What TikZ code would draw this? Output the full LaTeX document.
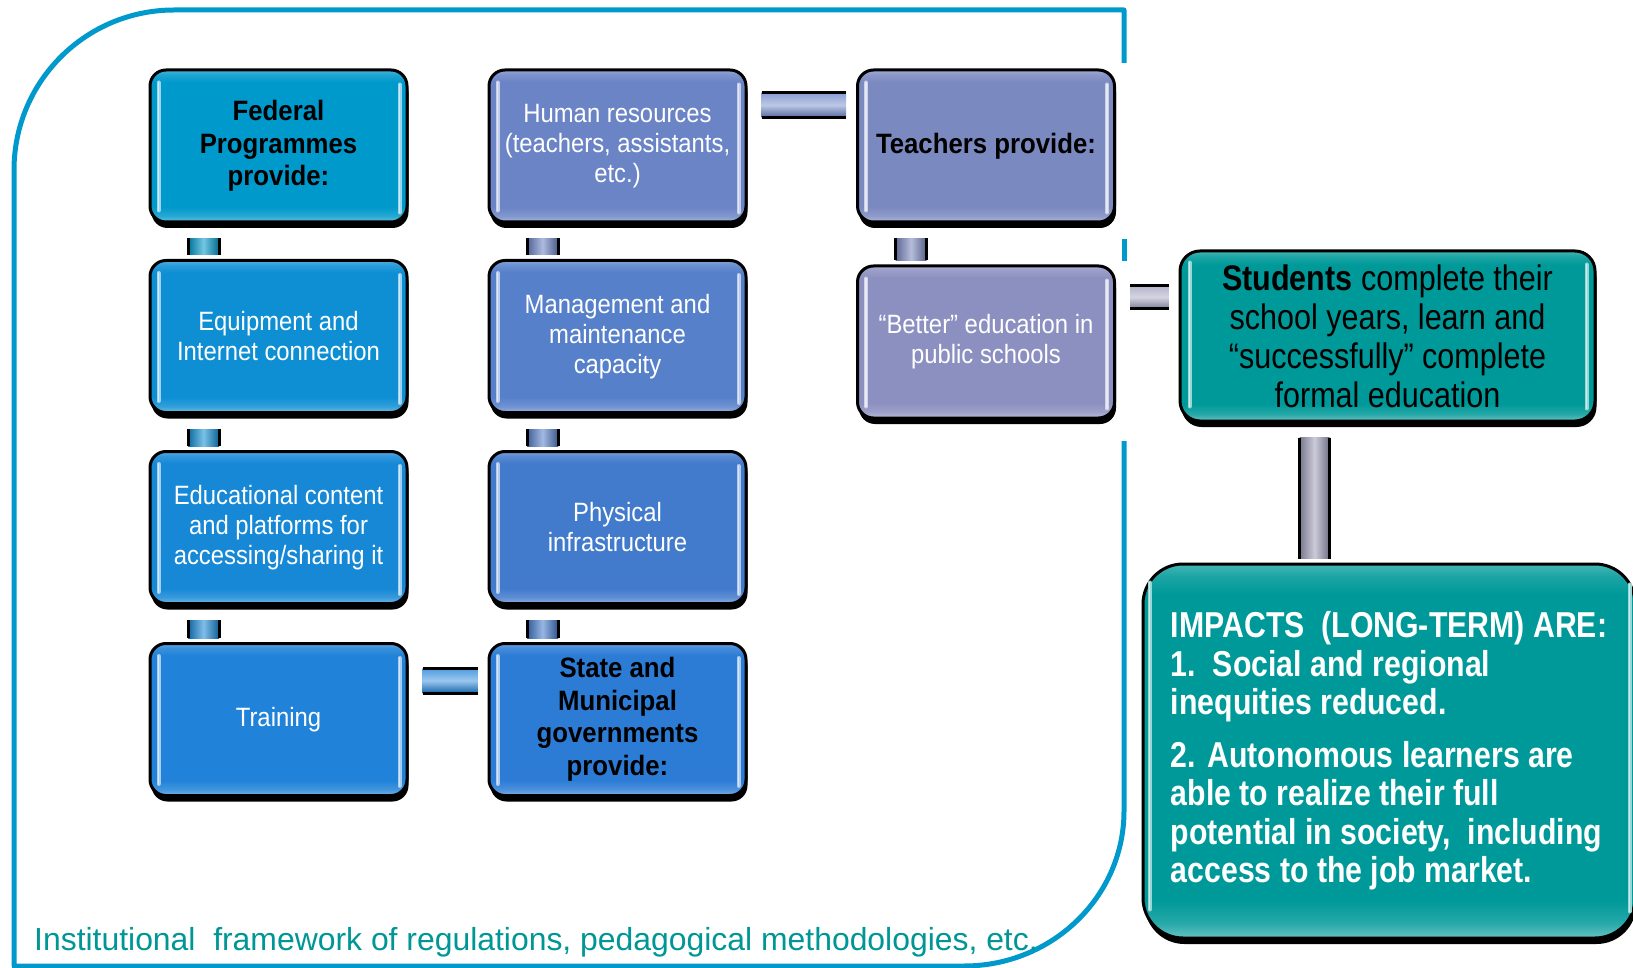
\documentclass[tikz,border=0pt]{standalone}
\usepackage{fontspec}
\setmainfont{Liberation Sans}
\newfontfamily\narrowsans{Liberation Sans}[FakeStretch=0.9]
\newfontfamily\headsans{Liberation Sans}[FakeStretch=0.92]
\newfontfamily\widesans{Liberation Sans}[FakeStretch=0.86]
\newfontfamily\impactsans{Liberation Sans}[FakeStretch=0.84]
\usetikzlibrary{calc,shadows}

% palette
\definecolor{frameblue}{RGB}{0,153,204}
\definecolor{fedc}{RGB}{0,153,204}
\definecolor{equipc}{RGB}{14,143,212}
\definecolor{educc}{RGB}{22,136,214}
\definecolor{trainc}{RGB}{32,130,216}
\definecolor{humanc}{RGB}{107,132,198}
\definecolor{managec}{RGB}{86,128,202}
\definecolor{physc}{RGB}{66,122,204}
\definecolor{statec}{RGB}{44,124,214}
\definecolor{teachc}{RGB}{123,137,193}
\definecolor{betterc}{RGB}{140,144,192}
\definecolor{tealc}{RGB}{0,153,153}
\definecolor{footc}{RGB}{0,150,150}
\definecolor{greyrod}{RGB}{160,160,188}

% box fill: flat colour with lighter bands along the top and bottom edges
\colorlet{boxc}{fedc}
\pgfdeclareverticalshading[boxc]{glossy}{100bp}{%
  color(0bp)=(boxc!60!white); color(25bp)=(boxc!60!white);
  color(27bp)=(boxc!85!white); color(30bp)=(boxc);
  color(71bp)=(boxc); color(73.5bp)=(boxc!88!white);
  color(75bp)=(boxc!72!white); color(100bp)=(boxc!72!white)}

\newcommand\plainfont{\narrowsans\fontsize{26.5}{30}\selectfont}
\newcommand\headfont{\headsans\bfseries\fontsize{28}{32.5}\selectfont}
\newcommand\studentfont{\widesans\fontsize{35.5}{39}\selectfont}
\newcommand\impactfont{\impactsans\bfseries\fontsize{36}{38.5}\selectfont}

\tikzset{
  box/.style={rectangle, rounded corners=16pt, draw=black, line width=3pt,
    minimum width=257pt, minimum height=152pt, inner sep=0pt, align=center,
    general shadow={fill=black, shadow xshift=1.5pt, shadow yshift=-6pt},
    /utils/exec={\colorlet{boxc}{#1}}, shade, shading=glossy},
  plainbox/.style={box=#1, text=white, font=\plainfont},
  headbox/.style={box=#1, text=black, font=\headfont},
  shineline/.style={line width=1.3pt, line cap=round, draw=white!80!#1,
    preaction={draw=#1!40!white, line width=4pt, line cap=round}},
  rodedge/.style={line width=3pt, draw=black},
  frameline/.style={line width=5pt, draw=frameblue, line join=round},
  footer/.style={text=footc, font=\fontsize{31.9}{36}\selectfont, inner sep=0pt},
}

% vertical rod: colour, upper node, lower node, axis offset from left side, width
\newcommand\vrod[5]{%
  \coordinate (rodA) at ($(#2.south west)+(#4-#5/2,15)$);
  \coordinate (rodB) at ($(#3.north)+(0,-4)$);
  \coordinate (rodC) at ($(rodA |- rodB)+(#5,0)$);
  \shade[left color=#1!75!black, right color=#1!70!black, middle color=#1!55!white]
    (rodA) rectangle (rodC);
  \draw[rodedge] (rodA) -- (rodA |- rodC) (rodC |- rodA) -- (rodC);
}
% horizontal rod: colour, left node, right node, axis offset below top of left node, thickness
\newcommand\hrod[5]{%
  \coordinate (rodA) at ($(#2.north east)+(14,#4-#5/2)$);
  \coordinate (rodB) at ($(#3.west)+(-10,0)$);
  \coordinate (rodC) at ($(rodB |- rodA)+(0,#5)$);
  \shade[top color=#1!80!white, bottom color=#1!80!black, middle color=#1!45!white]
    (rodA) rectangle (rodC);
  \draw[rodedge] (rodA) -- (rodC |- rodA) (rodA |- rodC) -- (rodC);
}
% glossy highlight strips inside a box: node, colour, side inset, top inset, bottom inset
\newcommand\shine[5]{%
  \draw[shineline=#2] ($(#1.north west)+(#3,#4)$) -- ($(#1.south west)+(#3,-#5)$);
  \draw[shineline=#2] ($(#1.north east)+(-#3+1,#4+2)$) -- ($(#1.south east)+(-#3+1,-#5+2)$);
}

\begin{document}
\begin{tikzpicture}[x=1pt, y=-1pt]
\useasboundingbox (0,0) rectangle (1633,968);

% outer frame of the institutional setting
\draw[frameline] (1124,441) -- (1124,811)
  arc[start angle=0, end angle=90, x radius=160, y radius=155] -- (14,966)
  -- (14,170) arc[start angle=180, end angle=270, radius=160] -- (1124,10) -- (1124,63);
\draw[frameline] (1124,239) -- (1124,261);

% federal column
\node[headbox=fedc]    (fed)   at (278.5,146)   {Federal\\Programmes\\provide:};
\node[plainbox=equipc] (equip) at (278.5,336.5) {Equipment and\\Internet connection};
\node[plainbox=educc]  (educ)  at (278.5,527.5) {Educational content\\and platforms for\\accessing/sharing it};
\node[plainbox=trainc] (train) at (278.5,719.5) {Training};

% state and municipal column
\node[plainbox=humanc]  (human)  at (617.5,146)   {Human resources\\(teachers, assistants,\\etc.)};
\node[plainbox=managec] (manage) at (617.5,336.5) {Management and\\maintenance\\capacity};
\node[plainbox=physc]   (phys)   at (617.5,527.5) {Physical\\infrastructure};
\node[headbox=statec]   (state)  at (617.5,719.5) {State and\\Municipal\\governments\\provide:};

% teachers column
\node[headbox=teachc]   (teach)  at (986,146) {Teachers provide:};
\node[plainbox=betterc] (better) at (986,342) {“Better” education in\\public schools};

% outcomes
\node[box=tealc, minimum width=415pt, minimum height=170pt, rounded corners=20pt,
      text=black, font=\studentfont] (students) at (1387.5,336)
  {\textbf{Students} complete their\\school years, learn and\\“successfully” complete\\formal education};
\node[box=tealc, minimum width=492pt, minimum height=374pt, rounded corners=40pt,
      align=left, text=white, font=\impactfont] (impacts) at (1389,751)
  {IMPACTS\ \ (LONG-TERM) ARE:\\1.\ \ Social and regional\\inequities reduced.\\[14pt]2. Autonomous learners are\\able to realize their full\\potential in society,\ \ including\\access to the job market.};

% highlights
\foreach \n/\c in {fed/fedc, equip/equipc, educ/educc, train/trainc,
                   human/humanc, manage/managec, phys/physc, state/statec,
                   teach/teachc, better/betterc}
  {\shine{\n}{\c}{10}{14}{13}}
\shine{students}{tealc}{11}{13}{16}
\shine{impacts}{tealc}{8}{20}{30}

% connecting rods
\vrod{fedc}{fed}{equip}{55}{31}
\vrod{equipc}{equip}{educ}{55}{31}
\vrod{educc}{educ}{train}{55}{31}
\vrod{humanc}{human}{manage}{55}{31}
\vrod{managec}{manage}{phys}{55}{31}
\vrod{physc}{phys}{state}{55}{31}
\vrod{teachc}{teach}{better}{55}{31}
\vrod{greyrod}{students}{impacts}{136}{30}
\hrod{trainc}{train}{state}{38.5}{25}
\hrod{humanc}{human}{teach}{36.5}{25}
\hrod{greyrod}{better}{students}{32.5}{23}

% caption of the frame
\node[footer, anchor=base west] (framecaption) at (34,950)
  {Institutional\ \ framework of regulations, pedagogical methodologies, etc.};
\end{tikzpicture}
\end{document}
